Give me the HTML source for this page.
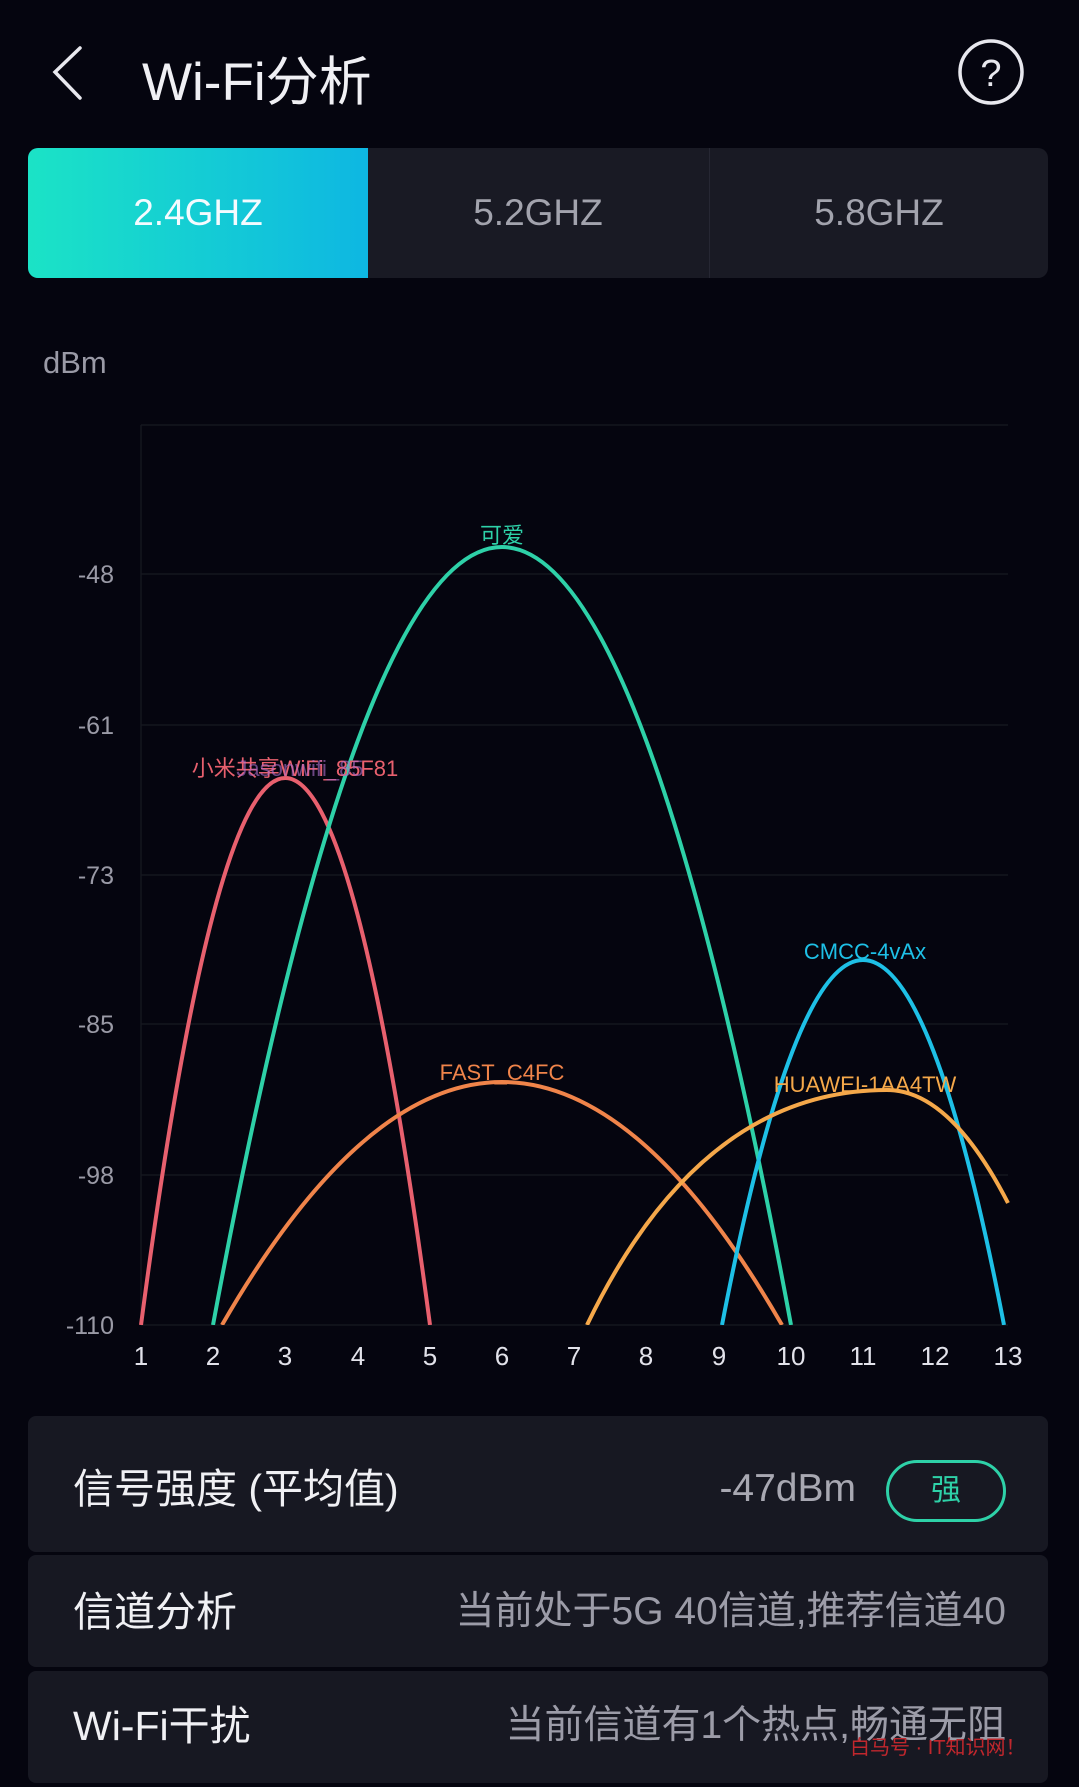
<!DOCTYPE html>
<html><head><meta charset="utf-8"><style>
html,body{margin:0;padding:0;background:#05050f;width:1079px;height:1787px;overflow:hidden;font-family:"Liberation Sans","Noto Sans CJK SC",sans-serif;color:#ececf2;position:relative}
.abs{position:absolute}
.tabs{left:28px;top:148px;width:1020px;height:130px;background:#191a24;border-radius:10px;overflow:hidden}
.tab{position:absolute;top:0;height:130px;line-height:130px;text-align:center;font-size:37px;color:#a2a3ad}
.card{left:28px;width:1020px;background:#171822;border-radius:8px}
.lbl{position:absolute;left:45px;font-size:41px;color:#f0f0f4;line-height:50px}
.val{position:absolute;right:42px;font-size:39px;color:#9c9ca8;line-height:50px}
</style></head><body>
<svg class="abs" style="left:0;top:0" width="1079" height="140">
<polyline points="80,48 55,72 80,98" fill="none" stroke="#e8e8ee" stroke-width="3.5" stroke-linecap="round"/>
<circle cx="991" cy="72" r="31" fill="none" stroke="#e8e8ee" stroke-width="3.5"/>
<text x="991" y="86" font-size="38" text-anchor="middle" fill="#e8e8ee" font-family="Liberation Sans">?</text>
</svg>
<div class="abs" style="left:142px;top:40px;font-size:53px;color:#f0f0f4">Wi-Fi分析</div>
<div class="abs tabs">
<div class="tab" style="left:0;width:340px;background:linear-gradient(90deg,#1be3c6,#0eb7e2);color:#f4fbff">2.4GHZ</div>
<div class="tab" style="left:340px;width:340px">5.2GHZ</div>
<div style="position:absolute;left:681px;top:0;width:1px;height:130px;background:#262733"></div>
<div class="tab" style="left:682px;width:338px">5.8GHZ</div>
</div>
<svg class="abs" style="left:0;top:300px" width="1079" height="1100" viewBox="0 300 1079 1100" font-family="Liberation Sans,Noto Sans CJK SC,sans-serif">
<text x="43" y="373" font-size="31" fill="#9a9aa6">dBm</text>
<g stroke="#15161f" stroke-width="1.5">
<line x1="141" y1="425" x2="1008" y2="425"/><line x1="141" y1="574" x2="1008" y2="574"/><line x1="141" y1="725" x2="1008" y2="725"/><line x1="141" y1="875" x2="1008" y2="875"/><line x1="141" y1="1024" x2="1008" y2="1024"/><line x1="141" y1="1175" x2="1008" y2="1175"/><line x1="141" y1="1325" x2="1008" y2="1325"/><line x1="141" y1="425" x2="141" y2="1325"/>
</g>
<g font-size="25" fill="#9a9aa6" text-anchor="end">
<text x="114" y="583">-48</text><text x="114" y="734">-61</text><text x="114" y="884">-73</text><text x="114" y="1033">-85</text><text x="114" y="1184">-98</text><text x="114" y="1334">-110</text>
</g>
<g font-size="26" fill="#e2e2ea" text-anchor="middle">
<text x="141" y="1365">1</text><text x="213" y="1365">2</text><text x="285" y="1365">3</text><text x="358" y="1365">4</text><text x="430" y="1365">5</text><text x="502" y="1365">6</text><text x="574" y="1365">7</text><text x="646" y="1365">8</text><text x="719" y="1365">9</text><text x="791" y="1365">10</text><text x="863" y="1365">11</text><text x="935" y="1365">12</text><text x="1008" y="1365">13</text>
</g>
<clipPath id="c"><rect x="135" y="400" width="875" height="925"/></clipPath>
<g clip-path="url(#c)" fill="none" stroke-width="4">
<path d="M141,1325 Q285,231 430,1325" stroke="#e8606e"/>
<path d="M213,1325 Q502,-231 791,1325" stroke="#2ed1a8"/>
<path d="M222,1325 Q502,839 782,1325" stroke="#f0844a"/>
<path d="M722,1325 Q863,595 1004,1325" stroke="#1ec0e6"/>
<path d="M587,1325 Q700,1090 887,1090 Q950,1090 1008,1203" stroke="#f5a84a"/>
</g>
<g font-size="22" text-anchor="middle">
<text x="295" y="776" fill="#e8606e">小米共享WiFi_85F81</text>
<text x="300" y="776" fill="#b070d0" opacity="0.6">Jasonwifi_85</text>
<text x="502" y="543" fill="#2ed1a8">可爱</text>
<text x="502" y="1080" fill="#f0844a">FAST_C4FC</text>
<text x="865" y="959" fill="#1ec0e6">CMCC-4vAx</text>
<text x="865" y="1092" fill="#f5a84a">HUAWEI-1AA4TW</text>
</g>
</svg>
<div class="abs card" style="top:1416px;height:136px">
<div class="lbl" style="top:48px">信号强度 (平均值)</div>
<div class="val" style="right:192px;top:48px;font-size:39px;color:#a8a8b2">-47dBm</div>
<div style="position:absolute;left:858px;top:44px;width:114px;height:56px;border:3px solid #2ed1a8;border-radius:32px;color:#2ed1a8;font-size:30px;line-height:56px;text-align:center">强</div>
</div>
<div class="abs card" style="top:1555px;height:112px">
<div class="lbl" style="top:32px">信道分析</div>
<div class="val" style="top:32px">当前处于5G 40信道,推荐信道40</div>
</div>
<div class="abs card" style="top:1671px;height:112px">
<div class="lbl" style="top:30px">Wi-Fi干扰</div>
<div class="val" style="top:30px">当前信道有1个热点,畅通无阻</div>
</div>
<div class="abs" style="left:850px;top:1731px;font-size:20px;color:#c0272d">白马号 · IT知识网！</div>
</body></html>
